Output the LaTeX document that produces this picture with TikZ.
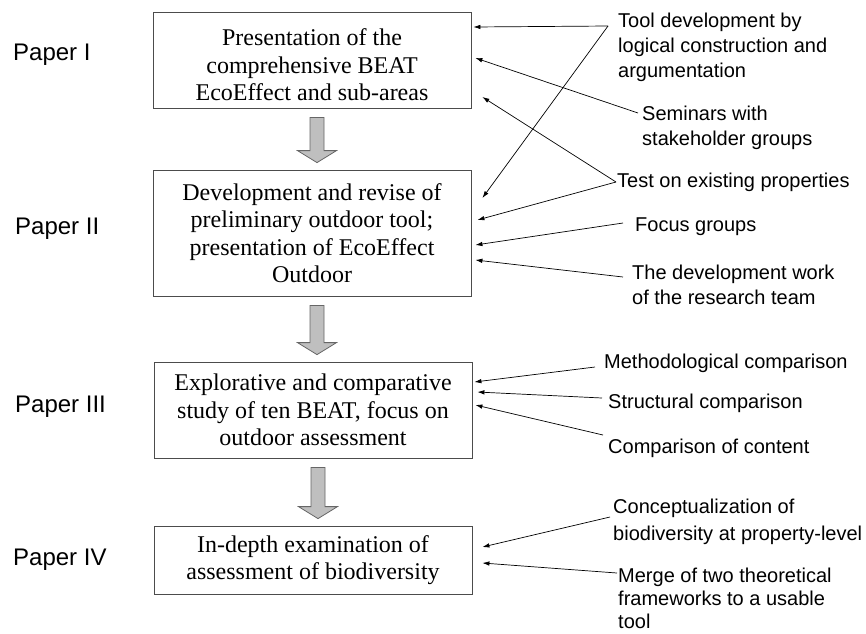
\documentclass[tikz,border=0pt]{standalone}
\usepackage{fontspec}
\setmainfont{Liberation Serif}
\setsansfont{Liberation Sans}
\usetikzlibrary{arrows.meta, calc}

\begin{document}
\begin{tikzpicture}[x=1pt, y=-1pt,
  stage/.style={draw=black!70, line width=0.8pt, minimum width=318pt, align=center,
    inner sep=0pt, font=\fontsize{24}{27.5}\selectfont},
  paper/.style={anchor=west, inner sep=0pt, font=\sffamily\fontsize{24}{29}\selectfont},
  method/.style={anchor=west, align=left, inner sep=0pt, font=\sffamily\fontsize{20}{25}\selectfont},
  feed/.style={-{Latex[length=7pt, width=4.5pt]}, line width=0.7pt},
  stagearrow/.style={draw=black!60, fill=black!25, line width=0.8pt}]
  \useasboundingbox (0, 0) rectangle (866, 633);

  % Paper labels
  \node[paper] (p1) at (13, 55) {Paper I};
  \node[paper] (p2) at (15, 229) {Paper II};
  \node[paper] (p3) at (15, 407) {Paper III};
  \node[paper] (p4) at (13, 560) {Paper IV};

  % Stages
  \node[stage, minimum height=96pt] (pres) at (312, 60)
    {\rule{0pt}{27pt}Presentation of the\\comprehensive BEAT\\EcoEffect and sub-areas};
  \node[stage, minimum height=126pt] (dev) at (312, 233)
    {Development and revise of\\preliminary outdoor tool;\\presentation of EcoEffect\\Outdoor};
  \node[stage, minimum height=96pt] (expl) at (313, 410)
    {Explorative and comparative\\study of ten BEAT, focus on\\outdoor assessment};
  \node[stage, minimum height=68pt] (depth) at (313, 560)
    {In-depth examination of\\assessment of biodiversity};

  % Block arrows between stages
  \draw[stagearrow] let \p1=($(pres.south)+(5,9)$), \p2=($(dev.north)+(5,-7)$) in
    (\x1-7pt,\y1) -- (\x1+7pt,\y1) -- (\x1+7pt,\y2+12pt) -- (\x1+19.5pt,\y2+12pt)
    -- (\x1,\y2) -- (\x1-19.5pt,\y2+12pt) -- (\x1-7pt,\y2+12pt) -- cycle;
  \draw[stagearrow] let \p1=($(dev.south)+(5,9)$), \p2=($(expl.north)+(5,-7)$) in
    (\x1-7pt,\y1) -- (\x1+7pt,\y1) -- (\x1+7pt,\y2+12pt) -- (\x1+19.5pt,\y2+12pt)
    -- (\x1,\y2) -- (\x1-19.5pt,\y2+12pt) -- (\x1-7pt,\y2+12pt) -- cycle;
  \draw[stagearrow] let \p1=($(expl.south)+(5,9)$), \p2=($(depth.north)+(5,-7)$) in
    (\x1-7pt,\y1) -- (\x1+7pt,\y1) -- (\x1+7pt,\y2+12pt) -- (\x1+19.5pt,\y2+12pt)
    -- (\x1,\y2) -- (\x1-19.5pt,\y2+12pt) -- (\x1-7pt,\y2+12pt) -- cycle;

  % Methods
  \node[method] (logic) at (618, 47) {Tool development by\\logical construction and\\argumentation};
  \node[method] (seminar) at (642, 127.5) {Seminars with\\stakeholder groups};
  \node[method] (test) at (617, 182) {Test on existing properties};
  \node[method] (focus) at (635, 227) {Focus groups};
  \node[method] (team) at (632, 284.5) {The development work\\of the research team};
  \node[method] (methcomp) at (604, 363) {Methodological comparison};
  \node[method] (structcomp) at (608, 403) {Structural comparison};
  \node[method] (contcomp) at (608, 448) {Comparison of content};
  \node[method, font=\sffamily\fontsize{20}{27}\selectfont] (concept) at (613, 521.5)
    {Conceptualization of\\biodiversity at property-level};
  \node[method, font=\sffamily\fontsize{20}{23}\selectfont] (merge) at (618, 598)
    {Merge of two theoretical\\frameworks to a usable\\tool};

  % Method arrows
  \draw[feed] ($(logic.west)+(-10,-21)$) -- ($(pres.east)+(2,-33)$);
  \draw[feed] ($(logic.west)+(-10,-21)$) -- ($(dev.east)+(11,-35)$);
  \draw[feed] ($(seminar.west)+(-4,-14.5)$) -- ($(pres.east)+(4,-2)$);
  \draw[feed] ($(test.west)+(-1,0)$) -- ($(pres.east)+(11,37)$);
  \draw[feed] ($(test.west)+(-1,0)$) -- ($(dev.east)+(6,-13)$);
  \draw[feed] ($(focus.west)+(-12,-4)$) -- ($(dev.east)+(4,12)$);
  \draw[feed] ($(team.west)+(-9,-7.5)$) -- ($(dev.east)+(4,27)$);
  \draw[feed] ($(methcomp.west)+(-9,4)$) -- ($(expl.east)+(2,-28)$);
  \draw[feed] ($(structcomp.west)+(-6,-5)$) -- ($(expl.east)+(5,-18)$);
  \draw[feed] ($(contcomp.west)+(-5,-13)$) -- ($(expl.east)+(3,-5)$);
  \draw[feed] ($(concept.west)+(-3,-4.5)$) -- ($(depth.east)+(10,-13)$);
  \draw[feed] ($(merge.west)+(-1,-25)$) -- ($(depth.east)+(10,3)$);
\end{tikzpicture}
\end{document}
